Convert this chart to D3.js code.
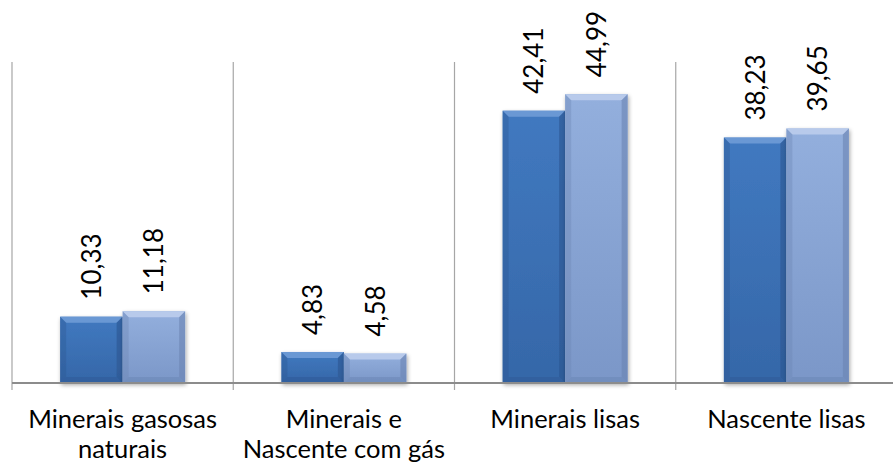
<!DOCTYPE html>
<html><head><meta charset="utf-8">
<script src="https://cdn.jsdelivr.net/npm/d3@7"></script>
<style>body{margin:0;background:#fff}svg{display:block}</style>
</head><body>
<svg id="c" width="893" height="467"></svg>
<script>
const categories = [["Minerais gasosas","naturais"],["Minerais e","Nascente com gás"],["Minerais lisas"],["Nascente lisas"]];
const series1 = [10.33, 4.83, 42.41, 38.23];
const series2 = [11.18, 4.58, 44.99, 39.65];
const labels1 = ["10,33","4,83","42,41","38,23"];
const labels2 = ["11,18","4,58","44,99","39,65"];

const svg = d3.select("#c");
const x = d3.scaleBand().domain(d3.range(categories.length)).range([12, 897]).paddingInner(0).paddingOuter(0);
const y = d3.scaleLinear().domain([0, 50]).range([383, 62]);
const inner = d3.scaleBand().domain([0,1]).range([0, x.bandwidth()]).paddingInner(0).paddingOuter(0.77);

const defs = svg.append("defs");
function grad(id, c1, c2){
  const g = defs.append("linearGradient").attr("id", id).attr("x1",0).attr("y1",0).attr("x2",0).attr("y2",1);
  g.append("stop").attr("offset","0%").attr("stop-color",c1);
  g.append("stop").attr("offset","100%").attr("stop-color",c2);
}
grad("g1","#4179c0","#3567a8");
grad("g2","#93afdd","#7b97c8");
const f = defs.append("filter").attr("id","sh").attr("x","-20%").attr("y","-20%").attr("width","140%").attr("height","140%");
f.append("feGaussianBlur").attr("in","SourceAlpha").attr("stdDeviation",2);
f.append("feOffset").attr("dx",1).attr("dy",2).attr("result","b");
f.append("feComponentTransfer").append("feFuncA").attr("type","linear").attr("slope",0.35);
const m = f.append("feMerge"); m.append("feMergeNode"); m.append("feMergeNode").attr("in","SourceGraphic");

// gridlines
svg.append("g").selectAll("line").data(d3.range(categories.length+1)).join("line")
  .attr("x1", i => i < categories.length ? x(i) : 897).attr("x2", i => i < categories.length ? x(i) : 897)
  .attr("y1", y(50)).attr("y2", 390).attr("stroke","#a6a6a6").attr("stroke-width",1.2);

const styles = [
  {fill:"url(#g1)", top:"#6f9bd6", side:"#2b5590", bottom:"#2f5c9a"},
  {fill:"url(#g2)", top:"#bccdec", side:"#6a84b3", bottom:"#6d88b8"}
];
const bevel = 6;
[series1, series2].forEach((s, si) => {
  const st = styles[si];
  s.forEach((v, i) => {
    const x0 = x(i) + inner(si), w = inner.bandwidth();
    const y0 = y(v), y1 = y(0);
    const g = svg.append("g").attr("filter","url(#sh)");
    g.append("rect").attr("x",x0).attr("y",y0).attr("width",w).attr("height",y1-y0).attr("fill",st.fill);
    const b = Math.min(bevel, (y1-y0)/2);
    g.append("polygon").attr("points",[[x0,y0],[x0+w,y0],[x0+w-b,y0+b],[x0+b,y0+b]].join(" ")).attr("fill",st.top).attr("opacity",0.9);
    g.append("polygon").attr("points",[[x0+w,y0],[x0+w,y1],[x0+w-b,y1-b],[x0+w-b,y0+b]].join(" ")).attr("fill",st.side).attr("opacity",0.6);
    g.append("polygon").attr("points",[[x0,y0],[x0+b,y0+b],[x0+b,y1-b],[x0,y1]].join(" ")).attr("fill",st.side).attr("opacity",0.35);
    g.append("polygon").attr("points",[[x0,y1],[x0+b,y1-b],[x0+w-b,y1-b],[x0+w,y1]].join(" ")).attr("fill",st.bottom).attr("opacity",0.6);
    const lab = si === 0 ? labels1[i] : labels2[i];
    const cx = x0 + w/2 + 9.5;
    svg.append("text").attr("transform",`translate(${cx},${y0-17}) rotate(-90)`)
      .attr("text-anchor","start").attr("font-family","Lato, 'Open Sans', sans-serif").attr("font-size",26)
      .attr("fill","#000").text(lab);
  });
});

// axis baseline
svg.append("line").attr("x1",12).attr("x2",893).attr("y1",y(0)).attr("y2",y(0)).attr("stroke","#8c8c8c").attr("stroke-width",2);

// category labels
const lab = svg.append("g").attr("font-family","Lato, 'Open Sans', sans-serif").attr("font-size",25.5).attr("fill","#000").attr("text-anchor","middle");
categories.forEach((c, i) => {
  const t = lab.append("text").attr("x", x(i) + x.bandwidth()/2).attr("y", 428);
  c.forEach((line, j) => t.append("tspan").attr("x", x(i) + x.bandwidth()/2).attr("dy", j === 0 ? 0 : 30).text(line));
});
</script>
</body></html>
